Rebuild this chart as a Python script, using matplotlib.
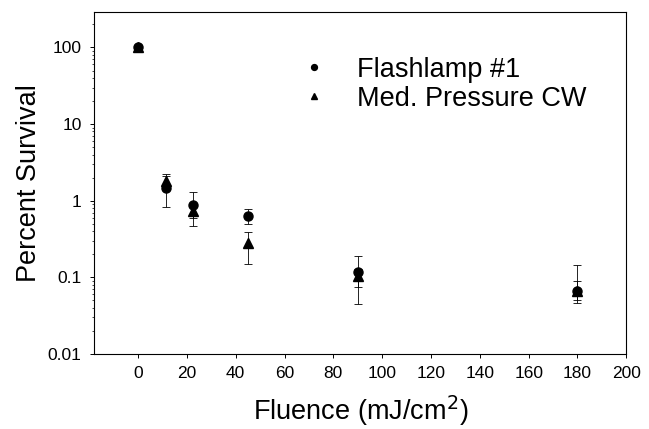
import numpy as np
import matplotlib
matplotlib.use("Agg")
import matplotlib.pyplot as plt
from matplotlib.ticker import FixedLocator, FixedFormatter, LogLocator, NullFormatter

plt.rcParams['font.family'] = ['Liberation Sans', 'DejaVu Sans']

# fluence in mJ/cm^2
fluence = [0, 11.25, 22.5, 45, 90, 180]

# Flashlamp #1
flash_surv = [100, 1.45, 0.88, 0.63, 0.118, 0.067]
flash_lo = [100, 0.83, 0.47, 0.49, 0.075, 0.046]
flash_hi = [100, 2.1, 1.3, 0.79, 0.19, 0.146]

# Med. Pressure CW
mp_surv = [100, 1.8, 0.74, 0.28, 0.105, 0.066]
mp_lo = [100, 1.5, 0.6, 0.15, 0.045, 0.05]
mp_hi = [100, 2.25, 0.9, 0.39, 0.13, 0.09]

x_ticks = [0, 20, 40, 60, 80, 100, 120, 140, 160, 180, 200]
y_ticks = [0.01, 0.1, 1, 10, 100]
y_labels = ["0.01", "0.1", "1", "10", "100"]

fig = plt.figure(figsize=(6.49, 4.29), dpi=100)
ax = fig.add_axes([0.145, 0.175, 0.82, 0.797])

f_err = [np.array(flash_surv) - np.array(flash_lo), np.array(flash_hi) - np.array(flash_surv)]
m_err = [np.array(mp_surv) - np.array(mp_lo), np.array(mp_hi) - np.array(mp_surv)]

ax.errorbar(fluence, mp_surv, yerr=m_err, fmt='^', color='black', ms=6.5,
            ecolor='black', elinewidth=0.6, capsize=3, capthick=0.6, label='Med. Pressure CW')
ax.errorbar(fluence, flash_surv, yerr=f_err, fmt='o', color='black', ms=6.5,
            ecolor='black', elinewidth=0.6, capsize=3, capthick=0.6, label='Flashlamp #1')

ax.set_yscale('log')
ax.set_xlim(-18, 200)
ax.set_ylim(0.01, 290)
ax.yaxis.set_major_locator(FixedLocator(y_ticks))
ax.yaxis.set_major_formatter(FixedFormatter(y_labels))
ax.yaxis.set_minor_locator(LogLocator(base=10, subs=np.arange(2, 10)))
ax.yaxis.set_minor_formatter(NullFormatter())
ax.set_xticks(x_ticks)

ax.tick_params(axis='both', which='major', labelsize=12.5, length=3, width=0.7,
               direction='out', pad=6)
ax.tick_params(axis='y', which='minor', length=1.5, width=0.5, direction='out')
for s in ax.spines.values():
    s.set_linewidth(0.8)

ax.set_xlabel('Fluence (mJ/cm$^2$)', fontsize=19.5, labelpad=9)
ax.set_ylabel('Percent Survival', fontsize=19.5, labelpad=4)

h, l = ax.get_legend_handles_labels()
leg = ax.legend([h[1][0], h[0][0]], [l[1], l[0]], loc='upper left',
                bbox_to_anchor=(0.336, 0.94), frameon=False, fontsize=19.5,
                markerscale=0.65, handletextpad=1.0, labelspacing=0.1, handlelength=1.2)

fig.savefig('out.png', dpi=100)
